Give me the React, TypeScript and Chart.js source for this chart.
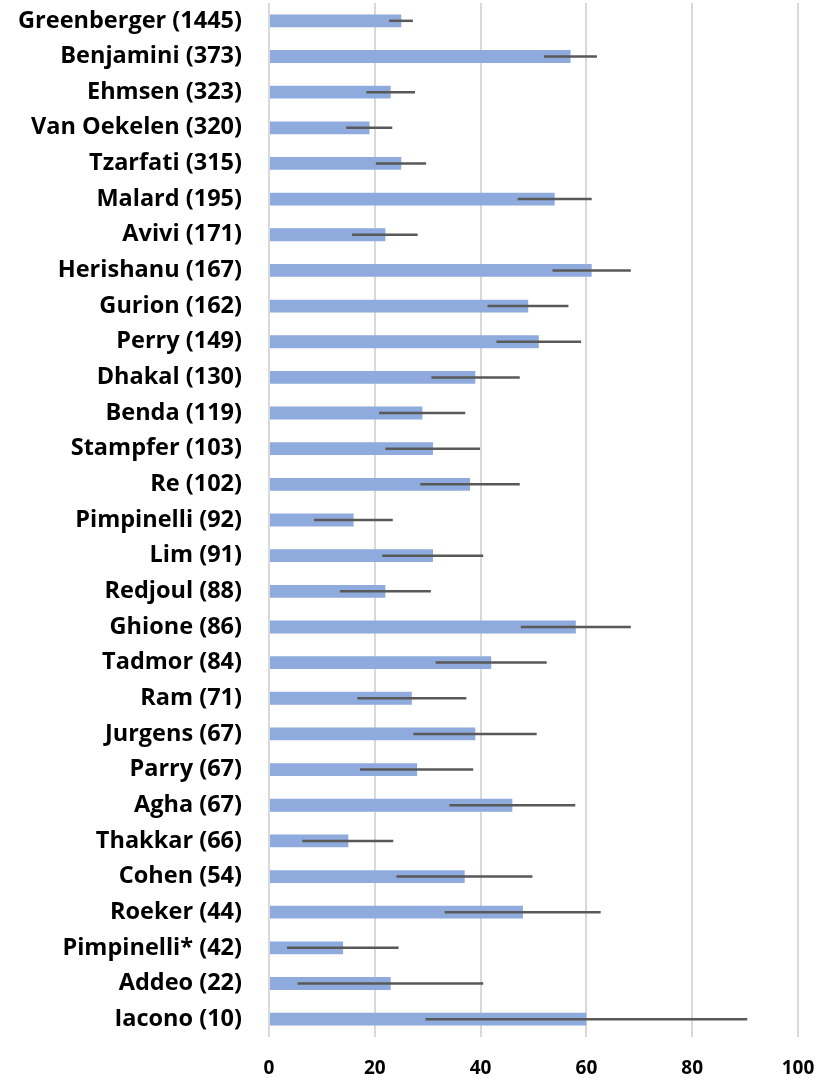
import React, { useEffect, useRef } from "react";
import { Chart, registerables } from "chart.js";

Chart.register(...registerables);

// Study label with number of patients
const categories = [
  "Greenberger (1445)",
  "Benjamini (373)",
  "Ehmsen (323)",
  "Van Oekelen (320)",
  "Tzarfati (315)",
  "Malard (195)",
  "Avivi (171)",
  "Herishanu (167)",
  "Gurion (162)",
  "Perry (149)",
  "Dhakal (130)",
  "Benda (119)",
  "Stampfer (103)",
  "Re (102)",
  "Pimpinelli (92)",
  "Lim (91)",
  "Redjoul (88)",
  "Ghione (86)",
  "Tadmor (84)",
  "Ram (71)",
  "Jurgens (67)",
  "Parry (67)",
  "Agha (67)",
  "Thakkar (66)",
  "Cohen (54)",
  "Roeker (44)",
  "Pimpinelli* (42)",
  "Addeo (22)",
  "Iacono (10)",
];

// Point estimate (%)
const estimates = [
  25, 57, 23, 19, 25, 54, 22, 61, 49, 51, 39, 29, 31, 38, 16, 31, 22, 58, 42,
  27, 39, 28, 46, 15, 37, 48, 14, 23, 60,
];

// Lower and upper confidence bounds (%)
const ciLower = [
  22.7, 52, 18.4, 14.6, 20.2, 47, 15.7, 53.6, 41.3, 43, 30.7, 20.8, 22, 28.6,
  8.5, 21.4, 13.4, 47.6, 31.5, 16.7, 27.3, 17.2, 34.1, 6.3, 24.1, 33.2, 3.4,
  5.4, 29.6,
];
const ciUpper = [
  27.2, 62, 27.6, 23.3, 29.7, 61, 28.1, 68.4, 56.6, 59, 47.4, 37.1, 39.9, 47.4,
  23.4, 40.5, 30.6, 68.4, 52.5, 37.3, 50.6, 38.6, 57.9, 23.5, 49.8, 62.7, 24.5,
  40.5, 90.4,
];

const xTicks = [0, 20, 40, 60, 80, 100];

const FONT = "'Open Sans', 'Liberation Sans', sans-serif";

// Horizontal whiskers for the confidence intervals
const errorBarPlugin = {
  id: "errorBars",
  afterDatasetsDraw(chart: any) {
    const meta = chart.getDatasetMeta(0);
    const xs = chart.scales.x;
    const ctx = chart.ctx;
    ctx.save();
    ctx.strokeStyle = "#595959";
    ctx.lineWidth = 2.5;
    meta.data.forEach((bar: any, i: number) => {
      const y = bar.y;
      ctx.beginPath();
      ctx.moveTo(xs.getPixelForValue(ciLower[i]), y);
      ctx.lineTo(xs.getPixelForValue(ciUpper[i]), y);
      ctx.stroke();
    });
    ctx.restore();
  },
};

export default function App() {
  const canvasRef = useRef<HTMLCanvasElement | null>(null);

  useEffect(() => {
    if (!canvasRef.current) return;
    const chart = new Chart(canvasRef.current, {
      type: "bar",
      data: {
        labels: categories,
        datasets: [
          {
            data: estimates,
            backgroundColor: "#8faadc",
            borderWidth: 0,
            barPercentage: 0.36,
            categoryPercentage: 1,
          },
        ],
      },
      options: {
        indexAxis: "y",
        animation: false,
        responsive: false,
        maintainAspectRatio: false,
        layout: { padding: { top: 3, right: 20, bottom: 0, left: 0 } },
        plugins: {
          legend: { display: false },
          tooltip: { enabled: false },
        },
        scales: {
          x: {
            min: 0,
            max: 100,
            afterBuildTicks(scale: any) {
              scale.ticks = xTicks.map((v) => ({ value: v }));
            },
            afterFit(scale: any) {
              scale.height = 41;
              scale.paddingLeft = 0;
              scale.paddingRight = 0;
            },
            grid: {
              color: "#d9d9d9",
              lineWidth: 2,
              drawTicks: false,
            },
            border: { display: false },
            ticks: {
              padding: 20,
              color: "#000000",
              font: { family: FONT, size: 19, weight: "bold" },
            },
          },
          y: {
            afterFit(scale: any) {
              scale.width = 269;
              scale.paddingTop = 0;
              scale.paddingBottom = 0;
            },
            grid: { display: false, drawTicks: false },
            border: { display: false },
            ticks: {
              padding: 27,
              color: "#000000",
              autoSkip: false,
              font: { family: FONT, size: 23.5, weight: "bold" },
            },
          },
        },
      },
      plugins: [errorBarPlugin],
    });
    return () => chart.destroy();
  }, []);

  return (
    <div
      style={{
        position: "fixed",
        left: 0,
        top: 0,
        width: 818,
        height: 1078,
        background: "#ffffff",
      }}
    >
      <canvas
        ref={canvasRef}
        width={818}
        height={1078}
        style={{ width: 818, height: 1078, display: "block" }}
      />
    </div>
  );
}
